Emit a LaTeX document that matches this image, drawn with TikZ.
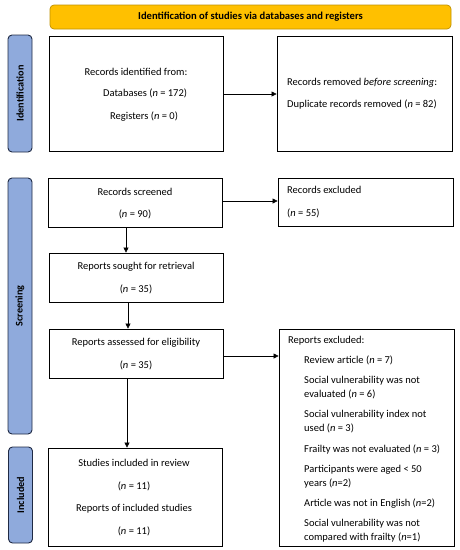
\documentclass[tikz,border=0pt]{standalone}
\usepackage{fontspec}
\setmainfont{Carlito}
\usetikzlibrary{arrows.meta}
\definecolor{bannerfill}{HTML}{FFC000}
\definecolor{bannerdraw}{HTML}{BF9000}
\definecolor{sidefill}{HTML}{8FAADC}
\definecolor{sidedraw}{HTML}{1F2A44}
\tikzset{
  x=1pt,y=-1pt,
  box/.style={draw=black,line width=0.8pt,fill=white,inner sep=0pt},
  txt/.style={inner sep=0pt,font=\fontsize{10.5}{12}\selectfont},
  side/.style={draw=sidedraw,line width=0.9pt,fill=sidefill,rounded corners=4pt,inner sep=0pt},
  sidetxt/.style={inner sep=0pt,rotate=90,font=\fontsize{10.2}{12}\selectfont\bfseries},
  arr/.style={draw=black,line width=0.6pt,-{Triangle[length=5pt,width=5pt]}},
}
\begin{document}
\begin{tikzpicture}
\useasboundingbox (0,0) rectangle (459,550);
% banner
\node[draw=bannerdraw,fill=bannerfill,line width=0.7pt,rounded corners=4pt,minimum width=401pt,minimum height=24pt,inner sep=0pt] (ban) at (250.5,17) {};
\node[txt,font=\fontsize{10.6}{12}\selectfont\bfseries] (bant) at (ban.center) {Identification of studies via databases and registers};
% side labels
\node[side,minimum width=24pt,minimum height=117pt] (s1) at (20,93.5) {};
\node[sidetxt] (s1t) at (s1.center) {Identification};
\node[side,minimum width=24pt,minimum height=256pt] (s2) at (20,306) {};
\node[sidetxt] (s2t) at (s2.center) {Screening};
\node[side,minimum width=24pt,minimum height=96pt] (s3) at (20.5,495) {};
\node[sidetxt] (s3t) at (s3.center) {Included};
% boxes
\node[box,minimum width=174pt,minimum height=115pt] (b1) at (136,93.5) {};
\node[box,minimum width=175pt,minimum height=115pt] (b2) at (364.5,93.5) {};
\node[box,minimum width=174pt,minimum height=49pt] (b3) at (135,202.5) {};
\node[box,minimum width=175pt,minimum height=48pt] (b4) at (365.5,202) {};
\node[box,minimum width=174pt,minimum height=49pt] (b5) at (136,277.5) {};
\node[box,minimum width=174pt,minimum height=49pt] (b6) at (136,353.5) {};
\node[box,minimum width=175pt,minimum height=217pt] (b7) at (366.5,437.5) {};
\node[box,minimum width=174pt,minimum height=98pt] (b8) at (135,497) {};
% box 1 text
\node[txt] (t1a) at (136,72) {Records identified from:};
\node[txt,anchor=west] (t1b) at (103,93) {Databases (\textit{n} = 172)};
\node[txt,anchor=west] (t1c) at (110,117) {Registers (\textit{n} = 0)};
% box 2 text
\node[txt,anchor=west] (t2a) at (287,83) {Records removed \textit{before screening}:};
\node[txt,anchor=west] (t2b) at (287,105) {Duplicate records removed (\textit{n} = 82)};
% box 3
\node[txt] (t3a) at (135,192) {Records screened};
\node[txt] (t3b) at (135,214) {(\textit{n} = 90)};
% box 4
\node[txt,anchor=west] (t4a) at (287,190) {Records excluded};
\node[txt,anchor=west] (t4b) at (287,213) {(\textit{n} = 55)};
% box 5
\node[txt] (t5a) at (136,267) {Reports sought for retrieval};
\node[txt] (t5b) at (136,289) {(\textit{n} = 35)};
% box 6
\node[txt] (t6a) at (136,343) {Reports assessed for eligibility};
\node[txt] (t6b) at (136,365) {(\textit{n} = 35)};
% box 7
\node[txt,anchor=west] (t7a) at (288,341) {Reports excluded:};
\node[txt,anchor=west] (t7b) at (304,360) {Review article (\textit{n} = 7)};
\node[txt,anchor=west] (t7c) at (304,381) {Social vulnerability was not};
\node[txt,anchor=west] (t7d) at (304,394) {evaluated (\textit{n} = 6)};
\node[txt,anchor=west] (t7e) at (304,415) {Social vulnerability index not};
\node[txt,anchor=west] (t7f) at (304,428) {used (\textit{n} = 3)};
\node[txt,anchor=west] (t7g) at (304,449) {Frailty was not evaluated (\textit{n} = 3)};
\node[txt,anchor=west] (t7h) at (304,470) {Participants were aged < 50};
\node[txt,anchor=west] (t7i) at (304,483) {years (\textit{n}=2)};
\node[txt,anchor=west] (t7j) at (304,504) {Article was not in English (\textit{n}=2)};
\node[txt,anchor=west] (t7k) at (304,524) {Social vulnerability was not};
\node[txt,anchor=west] (t7l) at (304,537) {compared with frailty (\textit{n}=1)};
% box 8
\node[txt] (t8a) at (134,463) {Studies included in review};
\node[txt] (t8b) at (134,486) {(\textit{n} = 11)};
\node[txt] (t8c) at (134,509) {Reports of included studies};
\node[txt] (t8d) at (134,531) {(\textit{n} = 11)};
% arrows
\draw[arr] (b1.east |- {(0,94)}) -- (b2.west |- {(0,94)});
\draw[arr] (b3.east |- {(0,201)}) -- (b4.west |- {(0,201)});
\draw[arr] (b3.south -| {(126,0)}) -- (b5.north -| {(126,0)});
\draw[arr] (b5.south -| {(128,0)}) -- (b6.north -| {(128,0)});
\draw[arr] (b6.east |- {(0,356)}) -- (b7.west |- {(0,356)});
\draw[arr] (b6.south -| {(127,0)}) -- (b8.north -| {(127,0)});
\end{tikzpicture}
\end{document}
